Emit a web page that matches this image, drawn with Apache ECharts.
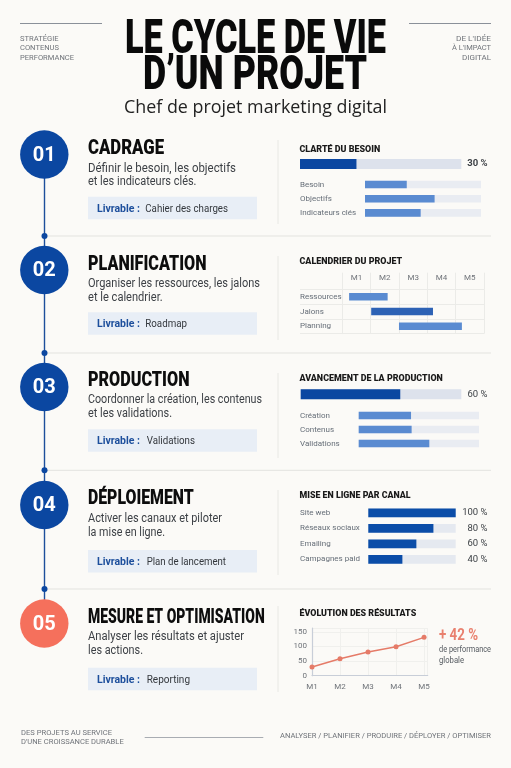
<!DOCTYPE html>
<html>
<head>
<meta charset="utf-8">
<title>Le cycle de vie d'un projet</title>
<script src="https://cdn.jsdelivr.net/npm/echarts@6/dist/echarts.min.js"></script>
<style>
html, body { margin: 0; padding: 0; background: #fbfaf7; }
#main { width: 511px; height: 768px; }
</style>
</head>
<body>
<div id="main"></div>
<script>
// data
var stepNumbers = ['01', '02', '03', '04', '05'];
var stepTitles = ['CADRAGE', 'PLANIFICATION', 'PRODUCTION', 'DÉPLOIEMENT', 'MESURE ET OPTIMISATION'];
var stepLines1 = ['Définir le besoin, les objectifs', 'Organiser les ressources, les jalons', 'Coordonner la création, les contenus', 'Activer les canaux et piloter', 'Analyser les résultats et ajuster'];
var stepLines2 = ['et les indicateurs clés.', 'et le calendrier.', 'et les validations.', 'la mise en ligne.', 'les actions.'];
var deliverables = ['Cahier des charges', 'Roadmap', 'Validations', 'Plan de lancement', 'Reporting'];
var chartTitles = ['CLARTÉ DU BESOIN', 'CALENDRIER DU PROJET', 'AVANCEMENT DE LA PRODUCTION', 'MISE EN LIGNE PAR CANAL', 'ÉVOLUTION DES RÉSULTATS'];

var clarityLabel = ['30 %'];
var clarityValue = [35];
var clarityCats = ['Besoin', 'Objectifs', 'Indicateurs clés'];
var clarityValues = [36, 60, 48];

var months = ['M1', 'M2', 'M3', 'M4', 'M5'];
var ganttCats = ['Ressources', 'Jalons', 'Planning'];
var ganttStart = [0.24, 1.02, 2.0];
var ganttLength = [1.36, 2.18, 2.22];

var productionLabel = ['60 %'];
var productionValue = [62];
var productionCats = ['Création', 'Contenus', 'Validations'];
var productionValues = [43.5, 44, 58.7];

var channelCats = ['Site web', 'Réseaux sociaux', 'Emailing', 'Campagnes paid'];
var channelValues = [100, 74.5, 55, 39];
var channelLabels = ['100 %', '80 %', '60 %', '40 %'];

var resultValues = [30, 58, 81, 99, 131];

// layout
var circleY = [154.5, 270, 387, 505, 623.5];
var circleColor = ['#0b47a1', '#0b47a1', '#0b47a1', '#0b47a1', '#f5705c'];
var dividerY = [236, 353, 470.3, 589];
var titleBase = [155, 270.7, 386.7, 505, 624];
var titleWidth = [76, 118.5, 101.5, 105.7, 176.7];
var line1Base = [172, 287.7, 403.3, 522, 640.7];
var line2Base = [185.7, 301, 417.3, 536, 654.7];
var line1Width = [148, 172, 174, 134, 156];
var line2Width = [108.5, 74.7, 84, 77, 55];
var boxTop = [196.7, 312.3, 429.3, 550, 667.7];
var boxValueX = [145.3, 145.3, 146.7, 146.7, 146.7];
var boxValueWidth = [82.7, 41.7, 48.3, 79.3, 43.3];
var sepTop = [140, 256, 373, 490, 606];
var sepBottom = [224, 340, 458, 575, 692];
var chartTitleBase = [152.7, 264.7, 381.3, 498.3, 616.3];
var chartTitleWidth = [80.7, 102.7, 143.3, 111, 116.7];

var measureCtx = document.createElement('canvas').getContext('2d');
var graphics = [];

// text placed by its baseline, stretched to the width seen in the picture
function addText(text, x, base, size, weight, family, color, width, align) {
    var font = weight + ' ' + size + 'px ' + family;
    measureCtx.font = font;
    var scale = width ? width / measureCtx.measureText(text).width : 1;
    graphics.push({
        type: 'text',
        x: x,
        y: base - size * 0.29,
        scaleX: scale,
        z: 10,
        style: {
            text: text,
            font: font,
            fill: color,
            align: align || 'left',
            verticalAlign: 'middle'
        }
    });
}

function addLine(x1, y1, x2, y2, color, lineWidth) {
    graphics.push({
        type: 'line',
        z: 1,
        shape: { x1: x1, y1: y1, x2: x2, y2: y2 },
        style: { stroke: color, lineWidth: lineWidth }
    });
}

var BODY = 'Roboto, sans-serif';
var SMALL = '#6f7379';

// header
addLine(20, 23.5, 102, 23.5, '#8a9099', 1);
addLine(409, 23.5, 491, 23.5, '#8a9099', 1);
addText('STRATÉGIE', 20, 41, 7, 'normal', BODY, SMALL, 38.7);
addText('CONTENUS', 20, 50.3, 7, 'normal', BODY, SMALL, 39);
addText('PERFORMANCE', 20, 60, 7, 'normal', BODY, SMALL, 54);
addText('DE L\'IDÉE', 491, 41, 7, 'normal', BODY, SMALL, 35, 'right');
addText('À L\'IMPACT', 491, 50.3, 7, 'normal', BODY, SMALL, 39, 'right');
addText('DIGITAL', 491, 60, 7, 'normal', BODY, SMALL, 29, 'right');
addText('LE CYCLE DE VIE', 125, 55, 48, '900', BODY, '#0a0a0a', 261);
addText('D’UN PROJET', 143, 91, 48, '900', BODY, '#0a0a0a', 224);
addText('Chef de projet marketing digital', 124, 113, 19, 'normal', '"Open Sans", sans-serif', '#222222', 263);

// timeline and dividers
addLine(44.5, circleY[0], 44.5, circleY[4], '#1d4f9c', 1.4);
for (var i = 0; i < dividerY.length; i++) {
    addLine(45, dividerY[i], 491, dividerY[i], '#e3e3df', 1);
    graphics.push({
        type: 'circle',
        z: 3,
        shape: { cx: 44.5, cy: dividerY[i], r: 3 },
        style: { fill: '#0b47a1' }
    });
}

// the five steps
for (var i = 0; i < stepNumbers.length; i++) {
    graphics.push({
        type: 'circle',
        z: 4,
        shape: { cx: 44.3, cy: circleY[i], r: 24.2 },
        style: { fill: circleColor[i] }
    });
    addText(stepNumbers[i], 44.3, circleY[i] + 7.2, 20, 'bold', BODY, '#ffffff', 0, 'center');
    addText(stepTitles[i], 88, titleBase[i], 20, '900', BODY, '#0d0d0d', titleWidth[i]);
    addText(stepLines1[i], 88, line1Base[i], 12, 'normal', BODY, '#3d4146', line1Width[i]);
    addText(stepLines2[i], 88, line2Base[i], 12, 'normal', BODY, '#3d4146', line2Width[i]);
    graphics.push({
        type: 'rect',
        z: 2,
        shape: { x: 88, y: boxTop[i], width: 169, height: 22.5 },
        style: { fill: '#e8eef6' }
    });
    addText('Livrable :', 97, boxTop[i] + 15.5, 11, 'bold', BODY, '#1d4f9c', 43);
    addText(deliverables[i], boxValueX[i], boxTop[i] + 15.5, 11, 'normal', BODY, '#33373c', boxValueWidth[i]);
    addLine(278, sepTop[i], 278, sepBottom[i], '#e8e8e4', 1);
    addText(chartTitles[i], 299.5, chartTitleBase[i], 8.5, '900', BODY, '#1a1a1a', chartTitleWidth[i]);
}

// results call-out
addText('+ 42 %', 439, 641, 16, 'bold', BODY, '#e9806e', 39);
addText('de performance', 439, 652.7, 8.5, 'normal', BODY, '#555a60', 52);
addText('globale', 439, 663.3, 8.5, 'normal', BODY, '#555a60', 25);

// footer
addText('DES PROJETS AU SERVICE', 21, 735, 7, 'normal', BODY, SMALL, 91);
addText('D\'UNE CROISSANCE DURABLE', 21, 744, 7, 'normal', BODY, SMALL, 102.7);
addLine(144.7, 737.5, 263.3, 737.5, '#a8acb2', 1);
addText('ANALYSER / PLANIFIER / PRODUIRE / DÉPLOYER / OPTIMISER', 491, 738, 7, 'normal', BODY, SMALL, 211, 'right');

var grids = [];
var xAxes = [];
var yAxes = [];
var series = [];

// one horizontal progress chart: a grid with a hidden 0-100 value axis
function addBars(cats, values, box, opts) {
    var g = grids.length;
    grids.push({ left: box.left, top: box.top, width: box.right - box.left, height: box.height });
    xAxes.push({ gridIndex: g, type: 'value', min: 0, max: 100, show: false });
    var yIndex = yAxes.length;
    yAxes.push({
        gridIndex: g,
        type: 'category',
        inverse: true,
        data: cats,
        axisLine: { show: false },
        axisTick: { show: false },
        axisLabel: {
            show: !!opts.labelMargin,
            align: 'left',
            margin: opts.labelMargin || 0,
            fontFamily: BODY,
            fontSize: 8,
            color: '#666e78'
        }
    });
    if (opts.rightLabels) {
        yAxes.push({
            gridIndex: g,
            type: 'category',
            position: 'right',
            inverse: true,
            data: opts.rightLabels,
            axisLine: { show: false },
            axisTick: { show: false },
            axisLabel: {
                align: 'right',
                margin: 487.5 - box.right,
                fontFamily: BODY,
                fontSize: opts.rightSize,
                fontWeight: opts.rightWeight,
                color: '#3d4146'
            }
        });
    }
    series.push({
        type: 'bar',
        xAxisIndex: xAxes.length - 1,
        yAxisIndex: yIndex,
        data: values,
        barWidth: opts.barWidth,
        showBackground: true,
        backgroundStyle: { color: opts.track },
        itemStyle: { color: opts.color },
        silent: true,
        animation: false
    });
}

addBars([''], clarityValue, { left: 300, right: 461.3, top: 159, height: 10 }, {
    rightLabels: clarityLabel, rightSize: 9.5, rightWeight: 'bold', barWidth: 10, track: '#dde2ec', color: '#0b47a1'
});
addBars(clarityCats, clarityValues, { left: 365, right: 481, top: 177.4, height: 42.6 }, {
    labelMargin: 65, barWidth: 7.6, track: '#e9ecf2', color: '#5a8bd1'
});
addBars([''], productionValue, { left: 300.7, right: 461.3, top: 389.3, height: 10 }, {
    rightLabels: productionLabel, rightSize: 9.5, rightWeight: 'normal', barWidth: 10, track: '#dde2ec', color: '#0b47a1'
});
addBars(productionCats, productionValues, { left: 358.7, right: 479, top: 408.5, height: 42 }, {
    labelMargin: 58.7, barWidth: 7.6, track: '#e9ecf2', color: '#5a8bd1'
});
addBars(channelCats, channelValues, { left: 368.3, right: 455.7, top: 505.1, height: 62 }, {
    labelMargin: 68.3, rightLabels: channelLabels, rightSize: 9.5, rightWeight: 'normal', barWidth: 8.6, track: '#e5e9f0', color: '#0b4da8'
});

// calendar: month bands on top, hidden value axis carries the bars
var ganttGrid = grids.length;
grids.push({ left: 342.3, top: 289.3, width: 141.7, height: 44.4 });
var GRID_LINE = '#ebebe8';
xAxes.push({
    gridIndex: ganttGrid,
    type: 'category',
    position: 'top',
    data: months,
    axisLine: { show: true, lineStyle: { color: GRID_LINE } },
    axisTick: { show: true, length: 16.6, lineStyle: { color: GRID_LINE } },
    splitLine: { show: true, lineStyle: { color: GRID_LINE } },
    axisLabel: { margin: 7, interval: 0, fontFamily: BODY, fontSize: 8, color: '#6f7379' }
});
var ganttX = xAxes.length;
xAxes.push({ gridIndex: ganttGrid, type: 'value', min: 0, max: 5, show: false });
var ganttY = yAxes.length;
yAxes.push({
    gridIndex: ganttGrid,
    type: 'category',
    inverse: true,
    data: ganttCats,
    axisLine: { show: true, lineStyle: { color: GRID_LINE } },
    axisTick: { show: true, length: 42.3, lineStyle: { color: GRID_LINE } },
    splitLine: { show: true, lineStyle: { color: GRID_LINE } },
    axisLabel: { align: 'left', margin: 42.3, fontFamily: BODY, fontSize: 8, color: '#666e78' }
});
series.push({
    type: 'bar', stack: 'gantt', xAxisIndex: ganttX, yAxisIndex: ganttY, data: ganttStart,
    barWidth: 7.5, itemStyle: { color: 'transparent' }, silent: true, animation: false
});
series.push({
    type: 'bar', stack: 'gantt', xAxisIndex: ganttX, yAxisIndex: ganttY,
    data: ganttLength.map(function (v, idx) {
        return { value: v, itemStyle: { color: idx == 1 ? '#2d62b5' : '#5a8bd1' } };
    }),
    barWidth: 7.5, silent: true, animation: false
});

// results line
var lineGrid = grids.length;
grids.push({ left: 312, top: 628, width: 115.7, height: 47.7 });
xAxes.push({
    gridIndex: lineGrid,
    type: 'value',
    min: 0,
    max: 4.13,
    interval: 1,
    axisLine: { show: true, onZero: false, lineStyle: { color: '#c8ced8', width: 1.2 } },
    axisTick: { show: false },
    splitLine: { show: true, lineStyle: { color: '#f0f0ed' } },
    axisLabel: {
        showMaxLabel: false,
        margin: 7,
        fontFamily: BODY,
        fontSize: 8,
        color: '#6f7379',
        formatter: function (v) { return months[v] || ''; }
    }
});
yAxes.push({
    gridIndex: lineGrid,
    type: 'value',
    min: 0,
    max: 163,
    interval: 50,
    axisLine: { show: true, lineStyle: { color: '#c8ced8', width: 1.2 } },
    axisTick: { show: false },
    splitLine: { show: true, lineStyle: { color: '#f0f0ed' } },
    axisLabel: { showMaxLabel: false, margin: 5, fontFamily: BODY, fontSize: 8, color: '#6f7379' }
});
series.push({
    type: 'line',
    xAxisIndex: xAxes.length - 1,
    yAxisIndex: yAxes.length - 1,
    data: resultValues.map(function (v, idx) { return [idx, v]; }),
    symbol: 'circle',
    symbolSize: 5,
    lineStyle: { color: '#e57b68', width: 1.5 },
    itemStyle: { color: '#e57b68' },
    silent: true,
    animation: false
});

var myChart = echarts.init(document.getElementById('main'));
myChart.setOption({
    backgroundColor: '#fbfaf7',
    animation: false,
    grid: grids,
    xAxis: xAxes,
    yAxis: yAxes,
    series: series,
    graphic: { elements: graphics }
});
</script>
</body>
</html>
